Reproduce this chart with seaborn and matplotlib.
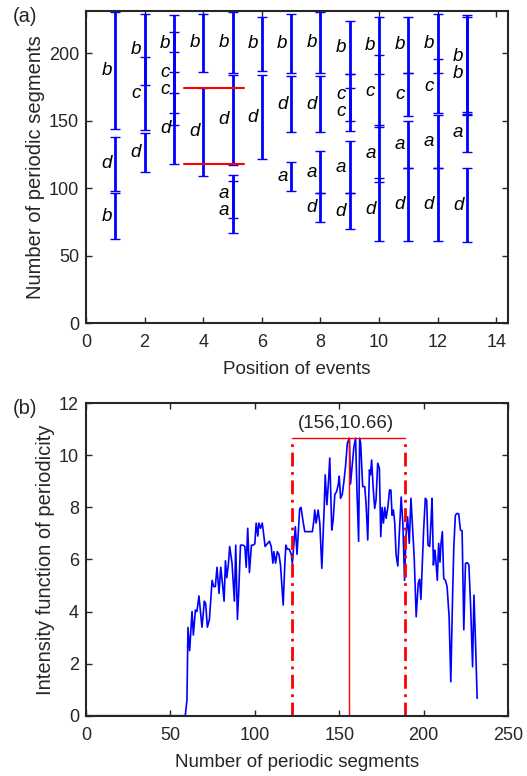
import numpy as np
import pandas as pd
import matplotlib
matplotlib.use("Agg")
import matplotlib.pyplot as plt
import seaborn as sns

# ---- panel (a): periodic segment ranges per event position ----
# each entry: (lower, upper, label)
positions = [1, 2, 3, 4, 5, 6, 7, 8, 9, 10, 11, 12, 13]
segments = [
    [(143.7, 230.6, "b"), (98.2, 138.2, "d"), (62.7, 96.3, "b")],
    [(176.8, 229.6, "b"), (143.2, 197.0, "c"), (111.8, 140.7, "d")],
    [(185.9, 228.4, "b"), (155.6, 215.6, "c"), (146.7, 201.2, "c"), (117.8, 170.4, "d")],
    [(185.9, 229.6, "b"), (109.1, 174.6, "d")],
    [(185.6, 230.6, "b"), (117.5, 183.9, "d"), (77.8, 109.9, "a"), (67.1, 105.6, "a")],
    [(187.1, 227.1, "b"), (121.7, 183.9, "d")],
    [(185.6, 229.6, "b"), (141.7, 183.2, "d"), (98.0, 119.2, "a")],
    [(185.6, 230.6, "b"), (141.7, 183.2, "d"), (96.3, 127.8, "a"), (75.0, 96.3, "d")],
    [(184.7, 224.2, "b"), (150.1, 184.7, "c"), (142.7, 174.5, "c"), (96.3, 135.3, "a"), (70.1, 96.3, "d")],
    [(184.7, 227.1, "b"), (145.2, 198.8, "c"), (104.9, 146.9, "a"), (61.2, 107.4, "d")],
    [(185.6, 227.1, "b"), (153.6, 185.6, "c"), (115.3, 150.1, "a"), (61.2, 115.3, "d")],
    [(185.6, 229.6, "b"), (155.6, 195.6, "c"), (115.3, 154.3, "a"), (61.2, 115.3, "d")],
    [(156.3, 228.4, "b"), (154.3, 226.9, "b"), (127.1, 155.0, "a"), (60.0, 114.8, "d")],
]
red_levels = [174.6, 118.0]
red_span = (3.35, 5.4)

# ---- panel (b): intensity function of periodicity ----
seg_x = [0, 58.8, 59.8, 60.4, 61.4, 62.8, 63.6, 64.8, 65.7, 66.9, 68.7, 70.1, 70.9, 71.9, 73.1,
         74.7, 75.6, 76.6, 77.6, 78.8, 79.8, 80.8, 81.8, 82.6, 83.4, 84.4, 85.1, 86.5, 87.9,
         88.7, 89.7, 90.5, 91.5, 93.1, 94.1, 94.9, 95.8, 96.8, 98.0, 99.0, 100.0, 100.8, 101.8,
         102.4, 103.4, 104.4, 105.0, 106.1, 107.3, 108.7, 109.7, 110.7, 111.3, 112.3, 113.3,
         114.3, 115.2, 116.8, 117.8, 118.4, 119.2, 120.4, 121.6, 122.2, 123.0, 124.0, 125.0,
         126.6, 127.4, 128.6, 129.6, 132.5, 134.1, 134.9, 135.5, 136.3, 137.5, 138.5, 139.7,
         141.1, 141.7, 142.7, 143.7, 144.4, 145.6, 146.4, 147.4, 148.4, 149.4, 150.0, 150.8,
         151.8, 152.8, 153.8, 154.8, 156.0, 156.7, 157.7, 158.7, 159.7, 160.5, 161.5, 162.1,
         162.7, 163.9, 165.1, 165.9, 166.9, 167.9, 168.5, 169.2, 170.2, 171.0, 171.8, 172.8,
         173.8, 174.6, 175.4, 176.2, 177.0, 177.8, 178.8, 179.8, 180.6, 181.3, 182.1, 182.9,
         183.7, 184.7, 185.7, 186.7, 187.7, 188.7, 189.5, 190.5, 191.5, 192.5, 193.5, 194.4,
         195.6, 196.8, 197.6, 198.4, 199.2, 200.0, 201.0, 201.8, 202.6, 203.6, 204.4, 205.0,
         205.8, 206.6, 207.1, 208.1, 208.9, 209.7, 210.3, 211.1, 211.9, 212.9, 213.9, 215.1,
         216.1, 217.1, 217.9, 218.8, 219.8, 220.8, 221.8, 222.8, 223.8, 224.8, 225.8, 226.8,
         227.8, 229.0, 229.8, 230.8, 231.7]
intensity = [0, 0, 0.6, 3.39, 2.5, 4.0, 3.1, 4.06, 4.0, 4.6, 3.4, 4.4, 4.3, 3.4, 3.7,
             5.2, 4.96, 4.96, 5.7, 4.7, 5.7, 5.1, 4.4, 5.95, 5.3, 5.86, 6.5, 5.86, 4.4,
             6.55, 3.7, 4.8, 6.55, 6.55, 6.5, 5.7, 7.2, 5.5, 6.55, 6.55, 6.6, 7.4, 6.9,
             7.4, 7.2, 7.4, 7.1, 6.5, 6.6, 6.7, 6.5, 5.86, 6.3, 5.86, 6.3,
             6.2, 5.8, 4.25, 5.86, 6.55, 6.4, 6.4, 6.2, 5.85, 6.5, 7.26, 6.2,
             7.96, 8.0, 7.45, 7.07, 7.07, 7.07, 7.45, 7.9, 7.4, 7.9, 7.4, 5.66,
             8.0, 9.25, 8.1, 9.05, 9.9, 7.13, 7.5, 8.5, 8.6, 8.86, 9.2, 8.35,
             8.5, 9.0, 9.63, 10.46, 10.66, 8.9, 9.63, 10.33, 10.66, 8.67, 6.7, 10.66,
             10.46, 8.8, 8.8, 8.16, 6.75, 9.44, 9.25, 9.82, 8.67, 7.96, 8.28, 9.7,
             9.5, 6.88, 8.0, 7.4, 8.0, 7.58, 8.0, 8.67, 8.67, 7.7, 7.9, 7.4,
             6.17, 5.75, 7.13, 8.4, 7.4, 5.2, 6.88, 7.64, 6.62, 8.35, 7.13, 6.1,
             3.8, 5.08, 5.24, 4.47, 5.85, 7.13, 8.35, 8.28, 6.55, 6.5, 7.5, 8.35,
             5.79, 6.36, 6.1, 5.2, 6.62, 5.9, 6.62, 7.07, 5.27, 5.2, 4.96, 3.8,
             1.3, 4.44, 6.5, 7.7, 7.77, 7.75, 7.13, 7.1, 3.3, 5.85, 5.88, 5.8,
             4.3, 1.88, 4.63, 2.7, 0.67]
peak_x, peak_y = 156, 10.66
band = (122, 189)


def spread_labels(ys, gap=10.0):
    """Push apart label centres in one column that would overlap."""
    order = np.argsort(ys)[::-1]
    out = np.array(ys, dtype=float)
    for _ in range(5):
        for i, j in zip(order[:-1], order[1:]):
            d = out[i] - out[j]
            if d < gap:
                shift = (gap - d) / 2
                out[i] += shift
                out[j] -= shift
    return out


sns.set_style("ticks")
plt.rcParams["font.family"] = ["Liberation Sans", "DejaVu Sans"]
plt.rcParams["axes.linewidth"] = 1.5
plt.rcParams["xtick.direction"] = "in"
plt.rcParams["ytick.direction"] = "in"
plt.rcParams["xtick.top"] = True
plt.rcParams["ytick.right"] = True
plt.rcParams["xtick.major.size"] = 4
plt.rcParams["ytick.major.size"] = 4
plt.rcParams["xtick.major.width"] = 1.0
plt.rcParams["ytick.major.width"] = 1.0

fig = plt.figure(figsize=(5.27, 7.76), dpi=100)
ax1 = fig.add_axes([0.1632, 0.5834, 0.8008, 0.4025])
ax2 = fig.add_axes([0.1632, 0.0777, 0.8008, 0.4026])

# panel (a)
rows = []
for pos, segs in zip(positions, segments):
    for lo, hi, lab in segs:
        rows.append({"pos": pos, "lo": lo, "hi": hi, "label": lab})
seg_df = pd.DataFrame(rows)
seg_df["mid"] = (seg_df["lo"] + seg_df["hi"]) / 2

for pos, grp in seg_df.groupby("pos"):
    ax1.errorbar(np.full(len(grp), pos), grp["mid"],
                 yerr=[grp["mid"] - grp["lo"], grp["hi"] - grp["mid"]],
                 fmt="none", ecolor="#0000ff", elinewidth=2.0, capsize=3.5, capthick=1.0)
    ys = spread_labels(grp["mid"].values, gap=12.5)
    for y, lab in zip(ys, grp["label"]):
        ax1.text(pos - 0.3, y, lab, ha="center", va="center", fontsize=13.5,
                 style="italic", color="black")

for lev in red_levels:
    ax1.plot(red_span, [lev, lev], color="red", lw=1.5)

ax1.set_xlim(0, 14.4)
ax1.set_ylim(0, 231.5)
ax1.set_xticks(range(0, 15, 2))
ax1.set_yticks(range(0, 201, 50))
ax1.set_xlabel("Position of events", fontsize=13.5, labelpad=7)
ax1.set_ylabel("Number of periodic segments", fontsize=14.5, labelpad=3)
ax1.tick_params(labelsize=13)
ax1.tick_params(axis="x", pad=8)
ax1.tick_params(axis="y", pad=5)

# panel (b)
curve = pd.DataFrame({"segments": seg_x, "intensity": intensity})
sns.lineplot(data=curve, x="segments", y="intensity", ax=ax2, color="#0000ff", lw=1.2,
             estimator=None, sort=False)
ax2.plot([band[0], band[0]], [0, peak_y], color="red", lw=2.0, ls=(0, (5, 2, 1, 2)))
ax2.plot([band[1], band[1]], [0, peak_y], color="red", lw=2.0, ls=(0, (5, 2, 1, 2)))
ax2.plot([peak_x, peak_x], [0, peak_y], color="red", lw=1.0)
ax2.plot(list(band), [peak_y, peak_y], color="red", lw=1.0)
ax2.text(peak_x - 2, peak_y + 0.22, f"({peak_x},{peak_y})", ha="center", va="bottom",
         fontsize=13.5)

ax2.set_xlim(0, 250)
ax2.set_ylim(0, 12)
ax2.set_xticks(range(0, 251, 50))
ax2.set_yticks(range(0, 13, 2))
ax2.set_xlabel("Number of periodic segments", fontsize=13.5, labelpad=7)
ax2.set_ylabel("Intensity function of periodicity", fontsize=14.5, labelpad=3)
ax2.tick_params(labelsize=13)
ax2.tick_params(axis="x", pad=8)
ax2.tick_params(axis="y", pad=5)

fig.text(0.024, 0.979, "(a)", fontsize=14.5, va="center", ha="left")
fig.text(0.024, 0.474, "(b)", fontsize=14.5, va="center", ha="left")

fig.savefig("out.png", dpi=100)
